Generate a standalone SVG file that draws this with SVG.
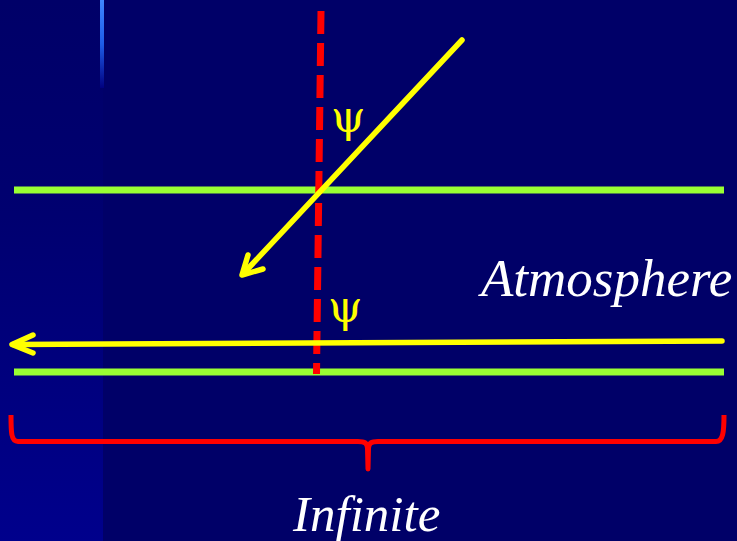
<svg xmlns="http://www.w3.org/2000/svg" width="737" height="541" viewBox="0 0 737 541">
  <defs>
    <linearGradient id="strip" x1="0" y1="0" x2="0" y2="1">
      <stop offset="0" stop-color="#000068"/>
      <stop offset="0.4" stop-color="#000070"/>
      <stop offset="1" stop-color="#00008C"/>
    </linearGradient>
    <linearGradient id="glow" x1="0" y1="0" x2="0" y2="1">
      <stop offset="0" stop-color="#3F86FF"/>
      <stop offset="0.5" stop-color="#1E5CE8"/>
      <stop offset="1" stop-color="#000080"/>
    </linearGradient>
  </defs>
  <style>
    .green { stroke: #99FF33; stroke-width: 7; fill: none; }
    .ray { stroke: #FFFF00; stroke-width: 5.5; fill: none; stroke-linecap: round; stroke-linejoin: round; }
    .normal { stroke: #FF0000; stroke-width: 7; fill: none; stroke-dasharray: 23 9; }
    .brace { stroke: #FF0000; stroke-width: 5; fill: none; stroke-linejoin: round; }
    .psi { font-family: "DejaVu Serif", "Liberation Serif", serif; font-size: 44px; fill: #FFFF00; }
    .label { font-family: "Liberation Serif", serif; font-style: italic; font-size: 53px; fill: #FFFFFF; }
  </style>
  <rect x="0" y="0" width="737" height="541" fill="#000068"/>
  <rect x="0" y="0" width="103" height="541" fill="url(#strip)"/>
  <rect x="100" y="0" width="4" height="88" fill="url(#glow)"/>

  <g id="layers">
    <line id="top-boundary" class="green" x1="14" y1="190" x2="724" y2="190"/>
    <line id="bottom-boundary" class="green" x1="14" y1="372" x2="724" y2="372"/>
  </g>

  <g id="connectors">
    <line id="normal" class="normal" x1="321" y1="11" x2="316.5" y2="374"/>
    <g id="incident-ray">
      <line class="ray" x1="462" y1="40" x2="243" y2="274"/>
      <polyline class="ray" points="248,255 242,275 263,269"/>
    </g>
    <g id="horizontal-ray">
      <line class="ray" x1="722" y1="341" x2="13" y2="344.5"/>
      <polyline class="ray" points="33,335 12,344.5 33,353"/>
    </g>
  </g>

  <g id="psi-top"><text class="psi" x="331" y="132">ψ</text></g>
  <g id="psi-bottom"><text class="psi" x="328" y="322">ψ</text></g>

  <g id="atmosphere"><text class="label" x="481" y="296">Atmosphere</text></g>

  <g id="brace">
    <path class="brace" d="M 11 415 C 11 432 11 441.5 18 441.5 L 358 441.5 C 365 441.5 367 443 367.5 448 L 368 469 L 368.5 448 C 369 443 371 441.5 378 441.5 L 716 441.5 C 723 441.5 724 432 724 415"/>
  </g>

  <g id="infinite"><text class="label" x="293" y="531" style="font-size:51px">Infinite</text></g>
</svg>
